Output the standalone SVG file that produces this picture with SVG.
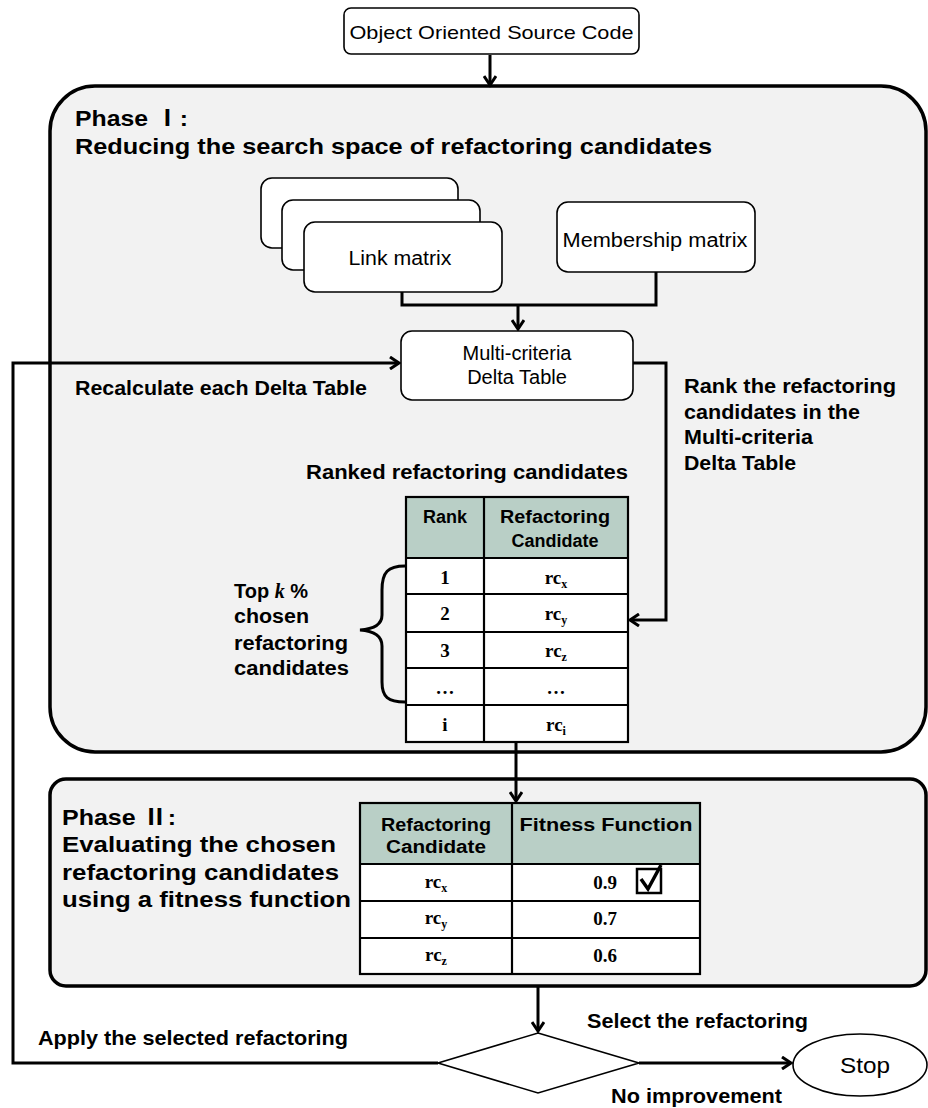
<svg xmlns="http://www.w3.org/2000/svg" width="928" height="1108" viewBox="0 0 928 1108">
<defs>
<marker id="arr" markerWidth="14" markerHeight="14" refX="11" refY="7" orient="auto" markerUnits="userSpaceOnUse">
<path d="M2,1 L11,7 L2,13" fill="none" stroke="#000" stroke-width="3"/>
</marker>
<style>
.box{fill:#fff;stroke:#000;stroke-width:1.6}
.phase{fill:#f2f2f2;stroke:#000;stroke-width:3.5}
.con{fill:none;stroke:#000;stroke-width:3}
.reg{font-family:"Liberation Sans",Arial,sans-serif;font-size:20px;fill:#000}
.nar{font-family:"Liberation Sans Narrow","Liberation Sans",Arial,sans-serif;fill:#000}
.bold{font-family:"Liberation Sans",Arial,sans-serif;font-weight:bold;font-size:20px;fill:#000}
.nb{font-family:"Liberation Sans Narrow","Liberation Sans",Arial,"Noto Sans CJK SC",sans-serif;font-weight:bold;font-size:22px;fill:#000}
.th{font-family:"Liberation Sans",Arial,sans-serif;font-weight:bold;font-size:18px;fill:#000;text-anchor:middle}
.td{font-family:"Liberation Serif","Times New Roman",serif;font-weight:bold;font-size:19px;fill:#000;text-anchor:middle}
.sub{font-size:12px}
.hdr{fill:#b9cfc6}
.cell{fill:#fff}
.grid{fill:none;stroke:#000;stroke-width:2.2}
</style>
</defs>

<!-- Phase I container -->
<g id="phase1">
<rect class="phase" x="50" y="86" width="876" height="666" rx="45" ry="45"/>
<text class="nb" x="75" y="126" textLength="113" lengthAdjust="spacingAndGlyphs">Phase Ⅰ:</text>
<text class="nb" x="75" y="154" textLength="637" lengthAdjust="spacingAndGlyphs">Reducing the search space of refactoring candidates</text>
</g>

<!-- Phase II container -->
<g id="phase2">
<rect class="phase" x="50" y="779" width="876" height="207" rx="16" ry="16"/>
<text class="nb" x="62" y="825" textLength="114" lengthAdjust="spacingAndGlyphs">Phase Ⅱ:</text>
<text class="nb" x="62" y="852" textLength="274" lengthAdjust="spacingAndGlyphs">Evaluating the chosen</text>
<text class="nb" x="62" y="880" textLength="277" lengthAdjust="spacingAndGlyphs">refactoring candidates</text>
<text class="nb" x="62" y="907" textLength="289" lengthAdjust="spacingAndGlyphs">using a fitness function</text>
</g>

<!-- Connectors -->
<g id="connectors">
<line class="con" x1="490" y1="55" x2="490" y2="85" marker-end="url(#arr)"/>
<polyline class="con" points="402,292 402,305 656,305 656,272"/>
<line class="con" x1="518" y1="305" x2="518" y2="329" marker-end="url(#arr)"/>
<polyline class="con" points="633,363 666,363 666,620 630,620" marker-end="url(#arr)"/>
<polyline class="con" points="438,1063 13,1063 13,363 399,363" marker-end="url(#arr)"/>
<line class="con" x1="516" y1="742" x2="516" y2="801" marker-end="url(#arr)"/>
<line class="con" x1="538" y1="986" x2="538" y2="1031" marker-end="url(#arr)"/>
<line class="con" x1="639" y1="1063" x2="791" y2="1063" marker-end="url(#arr)"/>
<text class="bold" x="75" y="395" textLength="292" lengthAdjust="spacingAndGlyphs">Recalculate each Delta Table</text>
<text class="bold" x="684" y="393" textLength="212" lengthAdjust="spacingAndGlyphs">Rank the refactoring</text>
<text class="bold" x="684" y="419" textLength="176" lengthAdjust="spacingAndGlyphs">candidates in the</text>
<text class="bold" x="684" y="444" textLength="129" lengthAdjust="spacingAndGlyphs">Multi-criteria</text>
<text class="bold" x="684" y="470" textLength="112" lengthAdjust="spacingAndGlyphs">Delta Table</text>
<text class="nb" x="38" y="1045" textLength="310" lengthAdjust="spacingAndGlyphs" style="font-size:21px">Apply the selected refactoring</text>
<text class="nb" x="587" y="1028" textLength="221" lengthAdjust="spacingAndGlyphs" style="font-size:21px">Select the refactoring</text>
<text class="nb" x="611" y="1103" textLength="171" lengthAdjust="spacingAndGlyphs" style="font-size:21px">No improvement</text>
</g>

<!-- Source code -->
<g id="source">
<rect class="box" x="344" y="8" width="295" height="46" rx="7"/>
<text class="nar" x="491.5" y="39" text-anchor="middle" font-size="19" textLength="284" lengthAdjust="spacingAndGlyphs">Object Oriented Source Code</text>
</g>

<!-- Link matrix stack -->
<g id="linkmatrix">
<rect class="box" x="261" y="178" width="197" height="70" rx="11"/>
<rect class="box" x="282" y="200" width="198" height="70" rx="11"/>
<rect class="box" x="304" y="222" width="198" height="70" rx="11"/>
<text class="reg" x="400" y="265" text-anchor="middle" textLength="103" lengthAdjust="spacingAndGlyphs">Link matrix</text>
</g>

<g id="membership">
<rect class="box" x="557" y="202" width="198" height="70" rx="11"/>
<text class="reg" x="655" y="247" text-anchor="middle" font-size="21" textLength="185" lengthAdjust="spacingAndGlyphs">Membership matrix</text>
</g>

<g id="deltatable">
<rect class="box" x="401" y="331" width="232" height="69" rx="11"/>
<text class="reg" x="517" y="360" text-anchor="middle">Multi-criteria</text>
<text class="reg" x="517" y="384" text-anchor="middle">Delta Table</text>
</g>

<!-- Ranked table -->
<g id="rankedtable">
<text class="bold" x="306" y="479" textLength="322" lengthAdjust="spacingAndGlyphs">Ranked refactoring  candidates</text>
<rect class="hdr" x="406" y="497" width="222" height="61"/>
<rect class="cell" x="406" y="558" width="222" height="184"/>
<rect class="grid" x="406" y="497" width="222" height="245"/>
<line class="grid" x1="484" y1="497" x2="484" y2="742"/>
<line class="grid" x1="406" y1="558" x2="628" y2="558"/>
<line class="grid" x1="406" y1="594" x2="628" y2="594"/>
<line class="grid" x1="406" y1="632" x2="628" y2="632"/>
<line class="grid" x1="406" y1="668" x2="628" y2="668"/>
<line class="grid" x1="406" y1="705" x2="628" y2="705"/>
<text class="th" x="445" y="523">Rank</text>
<text class="th" x="555" y="523" textLength="110" lengthAdjust="spacingAndGlyphs">Refactoring</text>
<text class="th" x="555" y="547">Candidate</text>
<text class="td" x="445" y="584">1</text>
<text class="td" x="445" y="620">2</text>
<text class="td" x="445" y="657">3</text>
<text class="td" x="445" y="694">…</text>
<text class="td" x="445" y="731">i</text>
<text class="td" x="556" y="584">rc<tspan class="sub" dy="4">x</tspan></text>
<text class="td" x="556" y="620">rc<tspan class="sub" dy="4">y</tspan></text>
<text class="td" x="556" y="657">rc<tspan class="sub" dy="4">z</tspan></text>
<text class="td" x="556" y="694">…</text>
<text class="td" x="556" y="731">rc<tspan class="sub" dy="4">i</tspan></text>
</g>

<!-- Brace and label -->
<g id="topk">
<path class="con" d="M405,566 C388,566 382,572 382,590 L382,615 C382,625 374,629 360,630 C374,631 382,636 382,646 L382,682 C382,697 388,702 405,702"/>
<text class="bold" x="234" y="598">Top <tspan font-family="Liberation Serif,serif" font-style="italic">k</tspan> %</text>
<text class="bold" x="234" y="623" textLength="75" lengthAdjust="spacingAndGlyphs">chosen</text>
<text class="bold" x="234" y="650" textLength="114" lengthAdjust="spacingAndGlyphs">refactoring</text>
<text class="bold" x="234" y="675" textLength="115" lengthAdjust="spacingAndGlyphs">candidates</text>
</g>

<!-- Fitness table -->
<g id="fitnesstable">
<rect class="hdr" x="360" y="803" width="340" height="61"/>
<rect class="cell" x="360" y="864" width="340" height="110"/>
<rect class="grid" x="360" y="803" width="340" height="171"/>
<line class="grid" x1="512" y1="803" x2="512" y2="974"/>
<line class="grid" x1="360" y1="864" x2="700" y2="864"/>
<line class="grid" x1="360" y1="901" x2="700" y2="901"/>
<line class="grid" x1="360" y1="938" x2="700" y2="938"/>
<text class="th" x="436" y="831" style="font-family:'Liberation Sans Narrow','Liberation Sans',Arial,sans-serif" textLength="110" lengthAdjust="spacingAndGlyphs">Refactoring</text>
<text class="th" x="436" y="853" style="font-family:'Liberation Sans Narrow','Liberation Sans',Arial,sans-serif" textLength="100" lengthAdjust="spacingAndGlyphs">Candidate</text>
<text class="th" x="606" y="831" style="font-family:'Liberation Sans Narrow','Liberation Sans',Arial,sans-serif" textLength="173" lengthAdjust="spacingAndGlyphs">Fitness Function</text>
<text class="td" x="436" y="888">rc<tspan class="sub" dy="4">x</tspan></text>
<text class="td" x="436" y="924">rc<tspan class="sub" dy="4">y</tspan></text>
<text class="td" x="436" y="961">rc<tspan class="sub" dy="4">z</tspan></text>
<text class="td" x="605" y="889">0.9</text>
<text class="td" x="605" y="925">0.7</text>
<text class="td" x="605" y="962">0.6</text>
<rect x="637" y="869" width="24" height="24" fill="none" stroke="#000" stroke-width="2.5"/>
<path d="M641,879 L648,889 L661,865" fill="none" stroke="#000" stroke-width="3.5"/>
</g>

<!-- Decision -->
<g id="decision">
<polygon points="538,1033 639,1063 538,1093 438,1063" fill="#fff" stroke="#000" stroke-width="1.6"/>
</g>

<g id="stop">
<ellipse cx="860" cy="1065" rx="67" ry="31" fill="#fff" stroke="#000" stroke-width="1.6"/>
<text class="nar" x="865" y="1073" text-anchor="middle" font-size="22" textLength="50" lengthAdjust="spacingAndGlyphs">Stop</text>
</g>
</svg>
